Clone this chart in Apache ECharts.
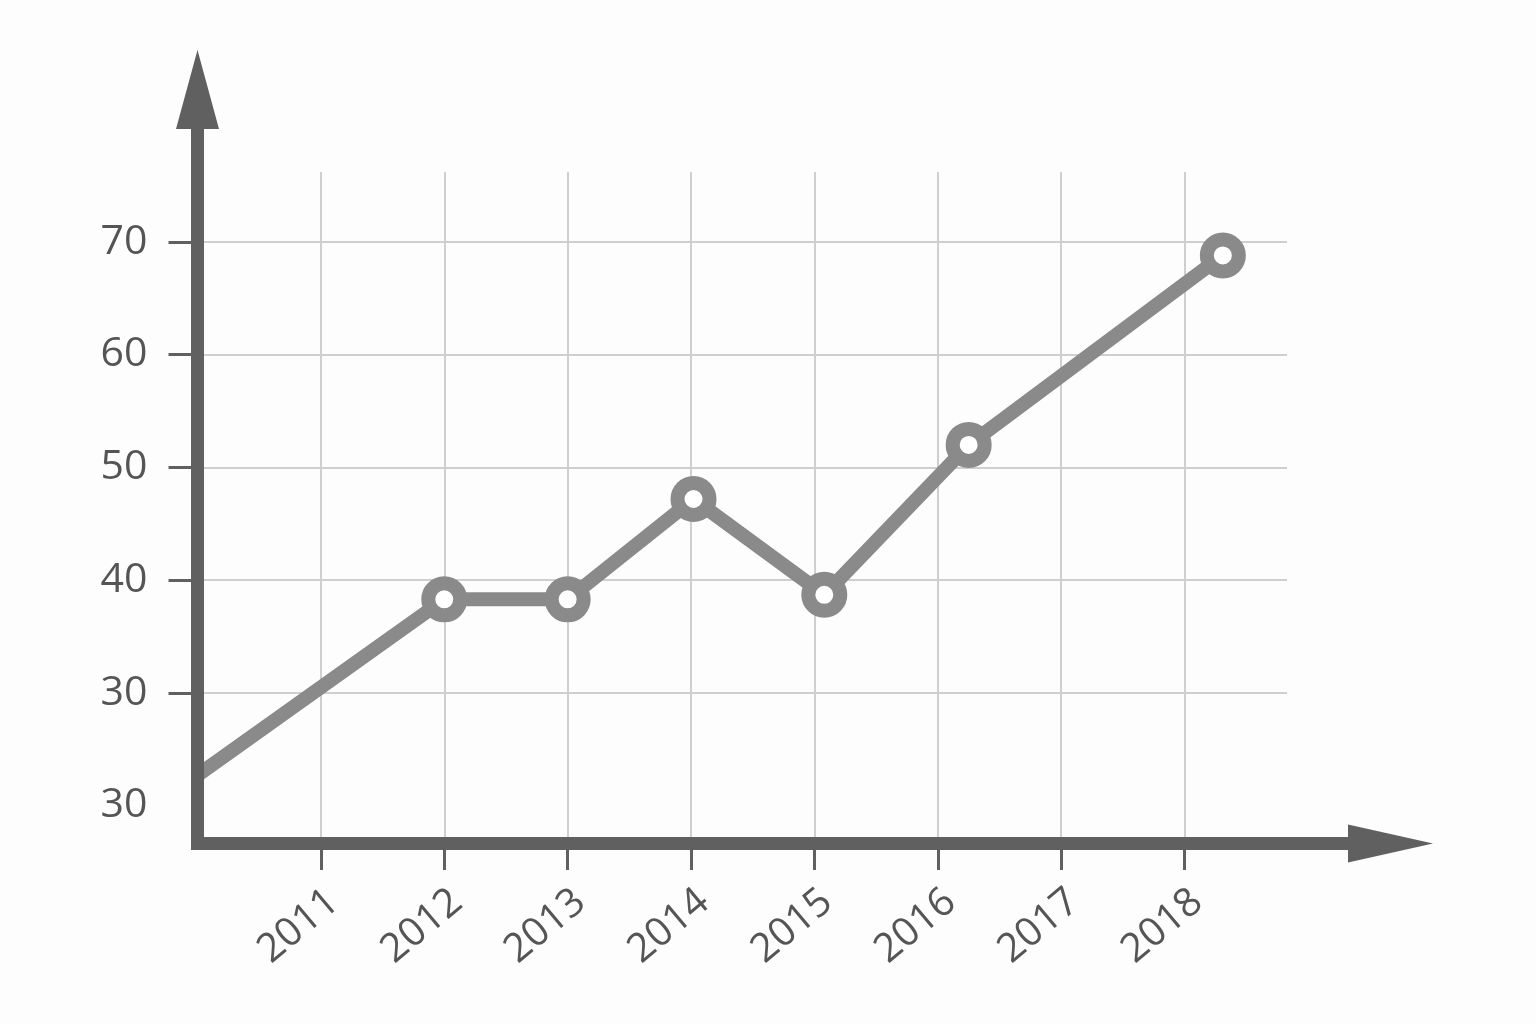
<!DOCTYPE html>
<html>
<head>
<meta charset="utf-8">
<title>Line chart</title>
<script src="https://cdn.jsdelivr.net/npm/echarts@6/dist/echarts.min.js"></script>
<style>
  html, body { margin: 0; padding: 0; background: #fdfdfd; }
  #main { width: 1536px; height: 1024px; }
</style>
</head>
<body>
<div id="main"></div>
<script>
// point positions (x in years, y in axis units)
const pointYears = [2010, 2012, 2013, 2014.02, 2015.08, 2016.25, 2018.31]
const pointValues = [22.7, 38.3, 38.3, 47.2, 38.7, 52.0, 68.8]
// first point is where the line meets the y axis, drawn without a marker
const pointHasMarker = [false, true, true, true, true, true, true]

const xTickValues = [2011, 2012, 2013, 2014, 2015, 2016, 2017, 2018]
const xTickLabels = ['2011', '2012', '2013', '2014', '2015', '2016', '2017', '2018']
const yTickValues = [20, 30, 40, 50, 60, 70]
const yTickLabels = ['30', '30', '40', '50', '60', '70']
const yGridValues = [30, 40, 50, 60, 70]

const xMin = 2010
const xMax = 2018.83
const yMin = 16.65
const yMax = 76.2

const axisColor = '#606060'
const lineColor = '#8a8a8a'
const gridColor = '#cfcfcf'
const textColor = '#555555'

// arrow heads with a short stem, drawn pointing up (ECharts rotates them)
const yArrow = 'path://M21.5 0L43 79L28 79L28 122L15 122L15 79L0 79Z'
const xArrow = 'path://M19 0L38 85L25.5 85L25.5 146L12.5 146L12.5 85L0 85Z'

const seriesData = pointYears.map((x, i) => ({
  value: [x, pointValues[i]],
  symbol: pointHasMarker[i] ? 'circle' : 'none'
}))

const option = {
  backgroundColor: '#fdfdfd',
  animation: false,
  grid: {
    left: 197.5,
    top: 172,
    right: 249,
    bottom: 180.5,
    containLabel: false,
    outerBoundsMode: 'none'
  },
  xAxis: [
    {
      type: 'value',
      min: xMin,
      max: xMax,
      interval: 1,
      axisLine: { show: false, onZero: false },
      axisTick: {
        show: true,
        customValues: xTickValues,
        length: 26.5,
        lineStyle: { color: axisColor, width: 3 }
      },
      splitLine: { show: true, lineStyle: { color: gridColor, width: 2 } },
      axisLabel: {
        customValues: xTickValues,
        rotate: 40,
        margin: 38,
        verticalAlign: 'top',
        fontFamily: 'Open Sans',
        fontSize: 40,
        color: textColor,
        formatter: v => xTickLabels[xTickValues.indexOf(v)]
      }
    },
    {
      // axis line with the arrow, drawn above the series
      type: 'value',
      position: 'bottom',
      min: xMin,
      max: xMax,
      z: 10,
      axisLine: {
        show: true,
        onZero: false,
        symbol: ['none', xArrow],
        symbolSize: [38, 146],
        symbolOffset: [0, 73],
        lineStyle: { color: axisColor, width: 13, cap: 'square' }
      },
      axisTick: { show: false },
      axisLabel: { show: false },
      splitLine: { show: false }
    }
  ],
  yAxis: [
    {
      type: 'value',
      min: yMin,
      max: yMax,
      axisLine: { show: false, onZero: false },
      axisTick: {
        show: true,
        customValues: yGridValues,
        length: 29,
        lineStyle: { color: axisColor, width: 3 }
      },
      splitLine: { show: true, lineStyle: { color: gridColor, width: 2 } },
      axisLabel: {
        customValues: yTickValues,
        margin: 50,
        fontFamily: 'Open Sans',
        fontSize: 41,
        color: textColor,
        formatter: v => yTickLabels[yTickValues.indexOf(v)]
      }
    },
    {
      type: 'value',
      position: 'left',
      min: yMin,
      max: yMax,
      z: 10,
      axisLine: {
        show: true,
        onZero: false,
        symbol: ['none', yArrow],
        symbolSize: [43, 122],
        symbolOffset: [0, 61],
        lineStyle: { color: axisColor, width: 13, cap: 'square' }
      },
      axisTick: { show: false },
      axisLabel: { show: false },
      splitLine: { show: false }
    }
  ],
  series: [
    {
      type: 'line',
      xAxisIndex: 0,
      yAxisIndex: 0,
      data: seriesData,
      symbolSize: 32,
      lineStyle: { color: lineColor, width: 14 },
      itemStyle: { color: '#ffffff', borderColor: lineColor, borderWidth: 14 }
    }
  ]
}

echarts.init(document.getElementById('main')).setOption(option)
</script>
</body>
</html>
